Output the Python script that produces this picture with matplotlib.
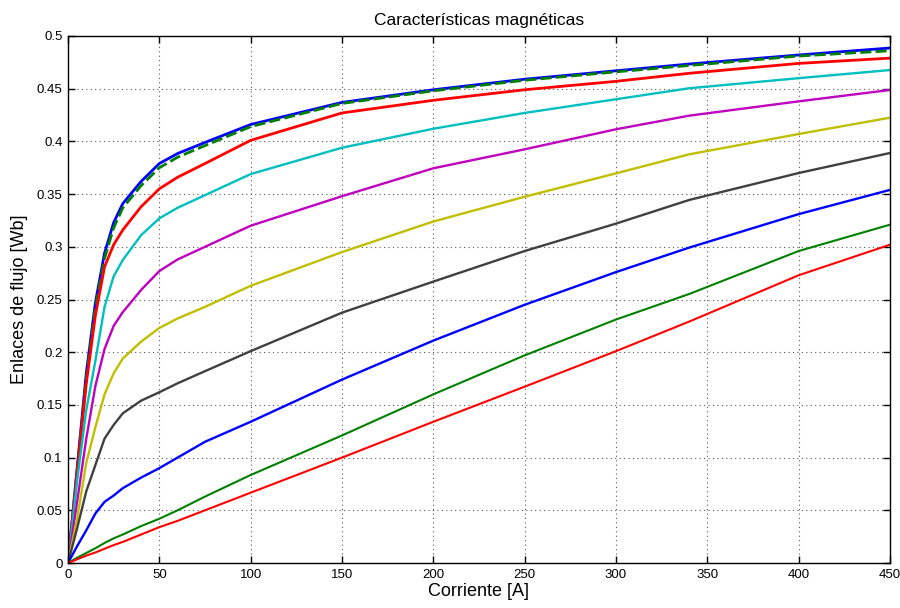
import numpy as np
import matplotlib
matplotlib.use("Agg")
import matplotlib.pyplot as plt

plt.rcParams['font.family'] = ['Liberation Sans', 'DejaVu Sans']

# corriente [A]
corriente = [0, 5, 10, 15, 20, 25, 30, 40, 50, 60, 75, 100, 150, 200, 250, 300, 340, 400, 450]

# enlaces de flujo [Wb], one list per curve (top to bottom)
flujo_azul1 = [0, 0.090, 0.180, 0.247, 0.294, 0.323, 0.341, 0.362, 0.379, 0.3885, 0.399, 0.416, 0.437, 0.449, 0.459, 0.467, 0.4734, 0.482, 0.4886]
flujo_verde1 = [0, 0.087, 0.175, 0.242, 0.289, 0.318, 0.337, 0.358, 0.375, 0.385, 0.396, 0.414, 0.436, 0.448, 0.458, 0.466, 0.472, 0.481, 0.486]
flujo_rojo1 = [0, 0.085, 0.170, 0.235, 0.281, 0.302, 0.316, 0.338, 0.355, 0.366, 0.379, 0.401, 0.427, 0.439, 0.449, 0.457, 0.4646, 0.474, 0.479]
flujo_cian = [0, 0.078, 0.145, 0.192, 0.243, 0.272, 0.2875, 0.311, 0.327, 0.337, 0.349, 0.369, 0.394, 0.412, 0.427, 0.440, 0.4504, 0.460, 0.4677]
flujo_magenta = [0, 0.058, 0.118, 0.168, 0.203, 0.225, 0.238, 0.259, 0.277, 0.288, 0.300, 0.320, 0.348, 0.3745, 0.3925, 0.4115, 0.4244, 0.438, 0.4488]
flujo_amarillo = [0, 0.042, 0.095, 0.129, 0.160, 0.180, 0.194, 0.210, 0.223, 0.232, 0.243, 0.263, 0.295, 0.324, 0.3475, 0.3697, 0.3877, 0.407, 0.4225]
flujo_gris = [0, 0.033, 0.068, 0.093, 0.118, 0.131, 0.142, 0.154, 0.162, 0.1705, 0.182, 0.201, 0.2375, 0.267, 0.296, 0.322, 0.3444, 0.370, 0.389]
flujo_azul2 = [0, 0.016, 0.031, 0.047, 0.058, 0.064, 0.071, 0.081, 0.090, 0.100, 0.115, 0.134, 0.174, 0.211, 0.245, 0.276, 0.2992, 0.331, 0.354]
flujo_verde2 = [0, 0.005, 0.0095, 0.014, 0.019, 0.0234, 0.027, 0.035, 0.042, 0.050, 0.063, 0.0835, 0.121, 0.160, 0.197, 0.231, 0.2552, 0.296, 0.321]
flujo_rojo2 = [0, 0.0035, 0.007, 0.010, 0.0135, 0.017, 0.020, 0.027, 0.034, 0.040, 0.050, 0.0667, 0.100, 0.134, 0.1673, 0.201, 0.229, 0.273, 0.302]

fig = plt.figure(figsize=(9, 6.08), dpi=100)
ax = fig.add_axes([68/900, 1-563/608, 822/900, 527/608])

ax.plot(corriente, flujo_azul1, color=(0, 0, 1), lw=2.0)
ax.plot(corriente, flujo_verde1, color=(0, 0.5, 0), lw=2.0, ls=(0, (4, 1.5)))
ax.plot(corriente, flujo_rojo1, color=(1, 0, 0), lw=2.0)
ax.plot(corriente, flujo_cian, color=(0, 0.75, 0.75), lw=1.7)
ax.plot(corriente, flujo_magenta, color=(0.75, 0, 0.75), lw=1.7)
ax.plot(corriente, flujo_amarillo, color=(0.75, 0.75, 0), lw=1.7)
ax.plot(corriente, flujo_gris, color=(0.25, 0.25, 0.25), lw=1.7)
ax.plot(corriente, flujo_azul2, color=(0, 0, 1), lw=1.7)
ax.plot(corriente, flujo_verde2, color=(0, 0.5, 0), lw=1.5)
ax.plot(corriente, flujo_rojo2, color=(1, 0, 0), lw=1.5)

ax.set_xlim(0, 450)
ax.set_ylim(0, 0.5)
ax.set_xticks(np.arange(0, 451, 50))
ax.set_yticks(np.arange(0, 0.51, 0.05))
ax.set_xticklabels(['0', '50', '100', '150', '200', '250', '300', '350', '400', '450'])
ax.set_yticklabels(['0', '0.05', '0.1', '0.15', '0.2', '0.25', '0.3', '0.35', '0.4', '0.45', '0.5'])
ax.grid(True, color='0.35', ls=(0, (1, 3)), lw=0.8)
ax.tick_params(direction='in', length=5, width=1, top=True, right=True, labelsize=9.5, pad=4)
for s in ax.spines.values():
    s.set_linewidth(1.0)

ax.set_title('Características magnéticas', fontsize=12.5, pad=8)
ax.set_xlabel('Corriente [A]', fontsize=13, labelpad=2)
ax.set_ylabel('Enlaces de flujo [Wb]', fontsize=13, labelpad=6)

fig.savefig('out.png', dpi=100)
